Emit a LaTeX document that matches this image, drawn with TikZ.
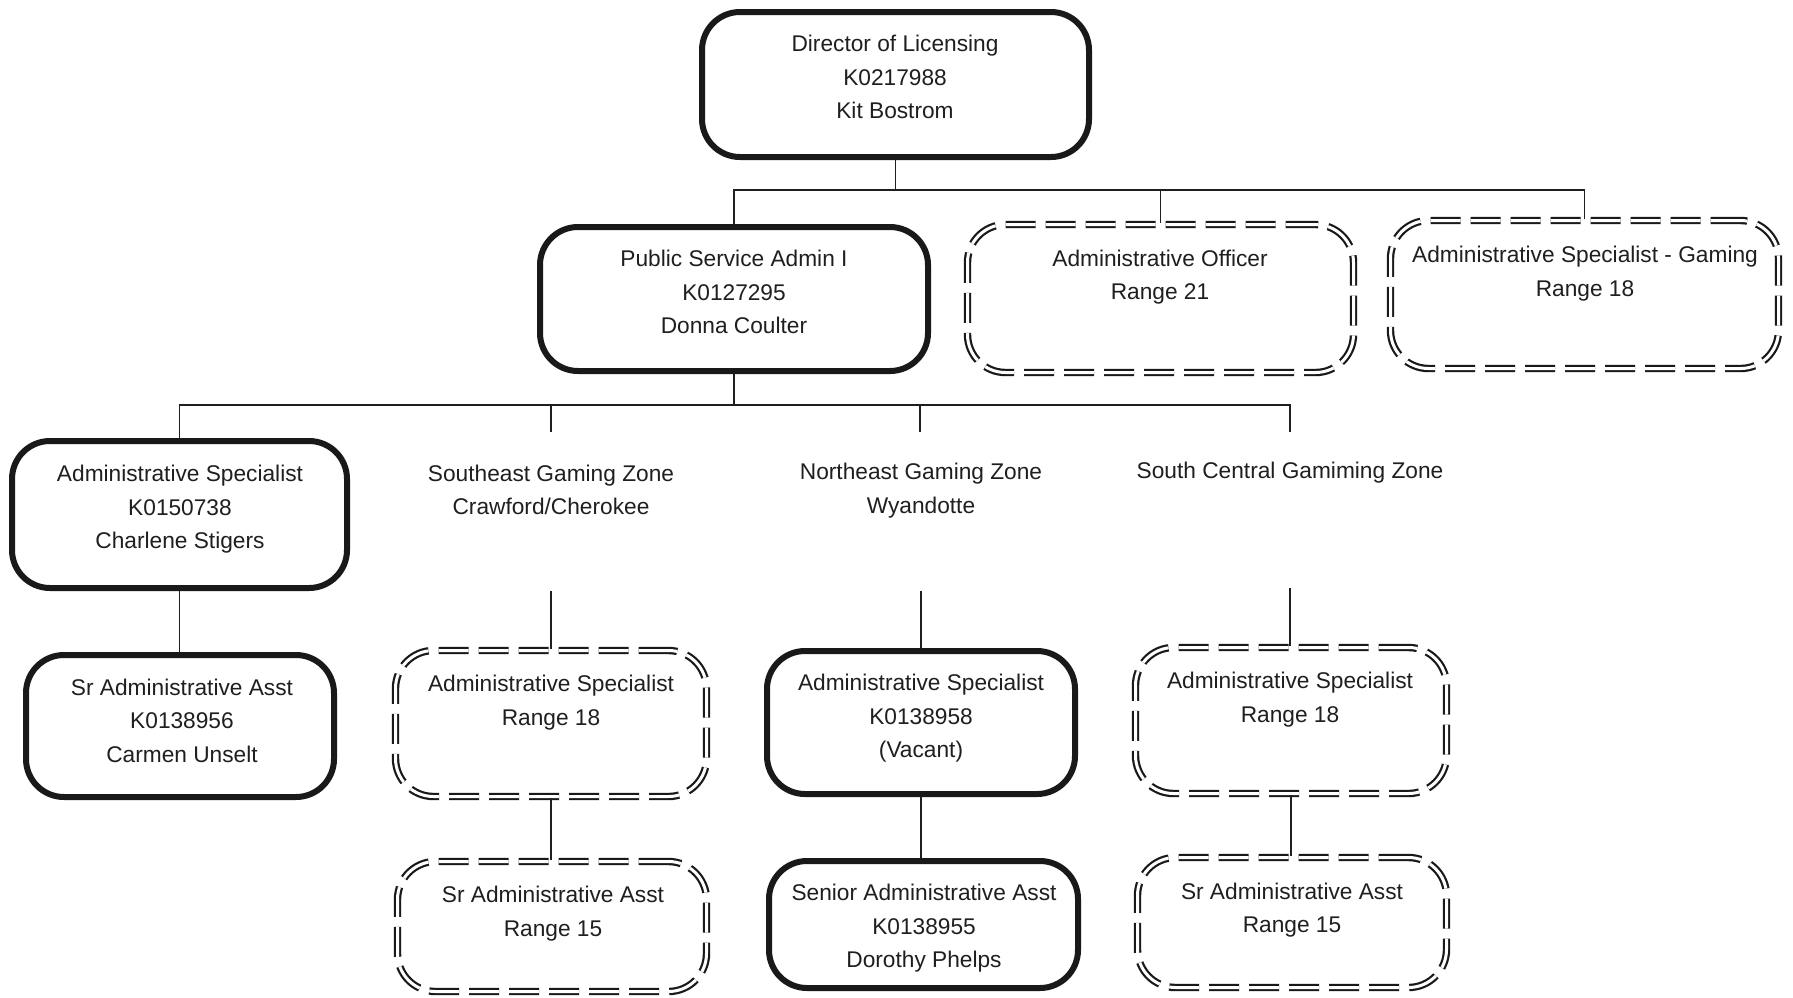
\documentclass[tikz,border=0pt]{standalone}
\usepackage{fontspec}
\setmainfont{Liberation Sans}
\begin{document}
\begin{tikzpicture}[x=1pt,y=-1pt,
  solidbox/.style={draw=black!90, line width=6pt, rounded corners=38pt, inner sep=0pt},
  dblbox/.style={draw=black!90, line width=2.2pt, double=white, double distance=3pt,
    dash pattern=on 30pt off 10pt, rounded corners=38pt, inner sep=0pt},
  txt/.style={align=center, inner sep=0pt, text=black!88,
    font=\fontsize{22.7}{33.5}\selectfont},
  conn/.style={draw=black!88, line width=1.7pt}]
\useasboundingbox (0,0) rectangle (1793,997);
\fill[white] (0,0) rectangle (1793,997);

% boxes
\node[solidbox, minimum width=387pt, minimum height=145pt] (dir) at (895.5,84.5) {};
\node[solidbox, minimum width=388pt, minimum height=144pt] (psa) at (734,299) {};
\node[dblbox, minimum width=386pt, minimum height=148pt] (ao) at (1160.5,298.5) {};
\node[dblbox, minimum width=388pt, minimum height=148pt] (gam) at (1584.5,294.5) {};
\node[solidbox, minimum width=335pt, minimum height=147pt] (as1) at (179.5,514.5) {};
\node[solidbox, minimum width=308pt, minimum height=142pt] (sr1) at (180,726) {};
\node[dblbox, minimum width=311pt, minimum height=146pt] (se1) at (551,723.5) {};
\node[dblbox, minimum width=309pt, minimum height=130pt] (se2) at (552,926.5) {};
\node[solidbox, minimum width=308pt, minimum height=143pt] (ne1) at (921,722.5) {};
\node[solidbox, minimum width=309pt, minimum height=127pt] (ne2) at (923.5,924.5) {};
\node[dblbox, minimum width=311pt, minimum height=146pt] (sc1) at (1291,720.5) {};
\node[dblbox, minimum width=309pt, minimum height=130pt] (sc2) at (1292,922.5) {};

% texts
\node[txt] (dirt) at (895,77) {Director of Licensing\\K0217988\\Kit Bostrom};
\node[txt] (psat) at (734,292) {Public Service Admin I\\K0127295\\Donna Coulter};
\node[txt] (aot) at (1160,277) {Administrative Officer\\Range 21};
\node[txt] (gamt) at (1585,273.5) {Administrative Specialist - Gaming\\Range 18};
\node[txt] (as1t) at (180,509.5) {Administrative Specialist\\K0150738\\Charlene Stigers};
\node[txt] (set) at (551,490) {Southeast Gaming Zone\\Crawford/Cherokee};
\node[txt] (net) at (921,490.5) {Northeast Gaming Zone\\Wyandotte};
\node[txt] (sct) at (1290,472.5) {South Central Gamiming Zone};
\node[txt] (sr1t) at (182,720.5) {Sr Administrative Asst\\K0138956\\Carmen Unselt};
\node[txt] (se1t) at (551,702.5) {Administrative Specialist\\Range 18};
\node[txt] (se2t) at (553,913.5) {Sr Administrative Asst\\Range 15};
\node[txt] (ne1t) at (921,718.5) {Administrative Specialist\\K0138958\\(Vacant)};
\node[txt] (ne2t) at (924,928.5) {Senior Administrative Asst\\K0138955\\Dorothy Phelps};
\node[txt] (sc1t) at (1290,699.5) {Administrative Specialist\\Range 18};
\node[txt] (sc2t) at (1292,910) {Sr Administrative Asst\\Range 15};

% bus coordinates
\coordinate (bus1) at (0,190);
\coordinate (bus2) at (0,405);
\coordinate (seTop) at (551,432);
\coordinate (neTop) at (920,432);
\coordinate (scTop) at (1290,432);
\coordinate (seBot) at (551,591);
\coordinate (neBot) at (921,591);
\coordinate (scBot) at (1290,588);

% connectors level 1
\draw[conn] (dir.south) -- (dir.south |- bus1);
\draw[conn] (psa.north) -- (psa.north |- bus1) -- (gam.north |- bus1) -- (gam.north);
\draw[conn] (ao.north |- bus1) -- (ao.north);

% connectors level 2
\draw[conn] (psa.south) -- (psa.south |- bus2);
\draw[conn] (as1.north) -- (as1.north |- bus2) -- (scTop |- bus2) -- (scTop);
\draw[conn] (seTop |- bus2) -- (seTop);
\draw[conn] (neTop |- bus2) -- (neTop);

% connectors level 3
\draw[conn] (as1.south) -- (as1.south |- sr1.north);
\draw[conn] (seBot) -- (seBot |- se1.north);
\draw[conn] (neBot) -- (neBot |- ne1.north);
\draw[conn] (scBot) -- (scBot |- sc1.north);
\draw[conn] (se1.south) -- (se1.south |- se2.north);
\draw[conn] (ne1.south) -- (ne1.south |- ne2.north);
\draw[conn] (sc1.south) -- (sc1.south |- sc2.north);
\end{tikzpicture}
\end{document}
